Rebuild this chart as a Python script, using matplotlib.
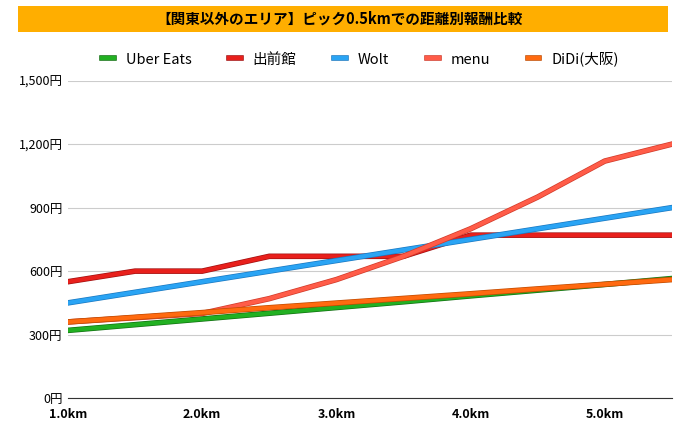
import matplotlib
matplotlib.use("Agg")
import matplotlib.pyplot as plt
import matplotlib.patheffects as pe

plt.rcParams["font.family"] = ["Noto Sans CJK JP"]

# 距離 (km)
distances = [1.0, 1.5, 2.0, 2.5, 3.0, 3.5, 4.0, 4.5, 5.0, 5.5]
x_labels = ["1.0km", "2.0km", "3.0km", "4.0km", "5.0km"]

uber = [320, 347, 374, 401, 428, 455, 483, 510, 537, 565]
demae = [550, 600, 600, 670, 670, 670, 770, 770, 770, 770]
wolt = [450, 500, 550, 600, 650, 700, 750, 800, 850, 900]
menu = [360, 380, 400, 470, 560, 670, 800, 950, 1120, 1200]
didi = [360, 382, 404, 427, 449, 471, 493, 516, 538, 560]

series = [
    ("Uber Eats", uber, "#22b022", "#127012"),
    ("出前館", demae, "#e8201c", "#a01010"),
    ("Wolt", wolt, "#2aa4f4", "#1a78c0"),
    ("menu", menu, "#ff5c48", "#d03a2a"),
    ("DiDi(大阪)", didi, "#ff6a10", "#c04a00"),
]

fig = plt.figure(figsize=(6.8, 4.29), dpi=100)
ax = fig.add_axes([0.1, 0.072, 0.888, 0.74])

for name, vals, color, edge in series:
    ax.plot(distances, vals, color=color, linewidth=3, label=name,
            path_effects=[pe.Stroke(linewidth=4, foreground=edge), pe.Normal()])

ax.set_xlim(1.0, 5.5)
ax.set_ylim(0, 1500)
ax.set_xticks([1, 2, 3, 4, 5])
ax.set_xticklabels(x_labels, fontsize=9, fontweight="bold")
ax.set_yticks(range(0, 1501, 300))
ax.set_yticklabels([f"{v:,}円" for v in range(0, 1501, 300)], fontsize=9)
ax.grid(axis="y", color="#cccccc", linewidth=0.8)
ax.set_axisbelow(True)
for s in ["top", "right", "left"]:
    ax.spines[s].set_visible(False)
ax.spines["bottom"].set_color("#333333")
ax.tick_params(axis="y", length=0, pad=4)
ax.tick_params(axis="x", length=0, pad=7)

fig.legend(loc="upper center", bbox_to_anchor=(0.53, 0.91), ncol=5, frameon=False,
           fontsize=10.5, handlelength=0.8, columnspacing=2.6)

fig.patches.append(plt.Rectangle((0.027, 0.925), 0.955, 0.062, transform=fig.transFigure,
                                 facecolor="#ffae00", edgecolor="none", zorder=-1))
fig.text(0.5, 0.956, "【関東以外のエリア】ピック0.5kmでの距離別報酬比較", ha="center", va="center",
         fontsize=10.5, fontweight="bold")

fig.savefig("out.png", dpi=100)
